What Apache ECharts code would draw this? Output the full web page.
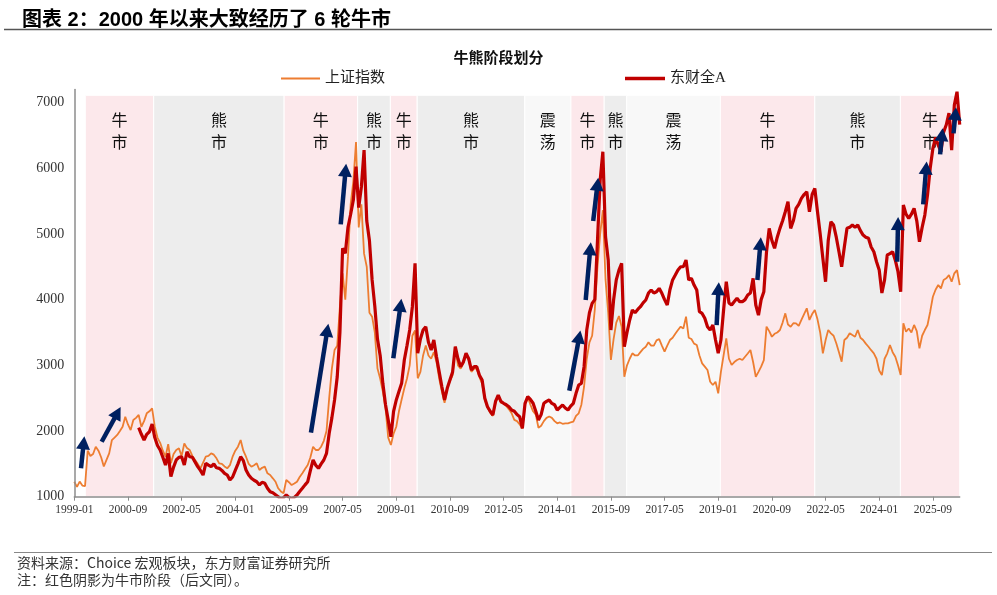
<!DOCTYPE html>
<html>
<head>
<meta charset="utf-8">
<script src="https://cdn.jsdelivr.net/npm/echarts@6/dist/echarts.min.js"></script>
<style>
html, body { margin: 0; padding: 0; background: #fff; }
#chart { width: 997px; height: 595px; }
</style>
</head>
<body>
<div id="chart"></div>
<script>
// x 轴按月计数：0 = 1999-01
const xLabels = ['1999-01', '2000-09', '2002-05', '2004-01', '2005-09', '2007-05', '2009-01', '2010-09', '2012-05',
    '2014-01', '2015-09', '2017-05', '2019-01', '2020-09', '2022-05', '2024-01', '2025-09'];

// 上证指数 月度 (1999-01 起)
const shValues = [
    1228, 1150, 1230, 1170, 1160, 1700, 1620, 1650, 1760, 1700, 1600, 1460, // 1999
    1560, 1660, 1860, 1900, 1940, 2000, 2065, 2218, 2100, 2015, 2167, 2200, // 2000
    2244, 2065, 2150, 2269, 2300, 2345, 2065, 1900, 1820, 1700, 1609, 1800, // 2001
    1508, 1650, 1711, 1736, 1620, 1812, 1740, 1711, 1620, 1559, 1500, 1432, // 2002
    1520, 1609, 1620, 1660, 1640, 1584, 1508, 1500, 1460, 1432, 1480, 1609, // 2003
    1700, 1761, 1863, 1700, 1609, 1500, 1457, 1480, 1508, 1406, 1440, 1457, // 2004
    1356, 1330, 1280, 1228, 1128, 1080, 1052, 1254, 1220, 1178, 1200, 1228, // 2005
    1300, 1356, 1420, 1482, 1600, 1761, 1711, 1711, 1761, 1850, 2000, 2500, // 2006
    2950, 3233, 3300, 3900, 4400, 4000, 4650, 5450, 5800, 6400, 5100, 5450, // 2007
    4700, 4500, 3800, 3740, 3500, 2950, 2800, 2600, 2350, 1900, 1787, 1960, // 2008
    2065, 2300, 2480, 2650, 2800, 3000, 3450, 3530, 2802, 2900, 3150, 3300, // 2009
    3150, 3100, 3200, 3050, 2800, 2600, 2430, 2650, 2760, 2850, 3283, 3000, // 2010
    2950, 3030, 3150, 3080, 2900, 2950, 2950, 2820, 2720, 2480, 2360, 2280, // 2011
    2230, 2430, 2530, 2430, 2420, 2380, 2330, 2270, 2170, 2150, 2100, 2040, // 2012
    2400, 2520, 2400, 2300, 2250, 2050, 2080, 2150, 2200, 2220, 2200, 2150, // 2013
    2117, 2130, 2110, 2117, 2117, 2130, 2142, 2230, 2269, 2400, 2674, 3100, // 2014
    3350, 3450, 3850, 4500, 5000, 5361, 4300, 3800, 3081, 3400, 3650, 3750, // 2015
    3588, 2826, 3000, 3100, 3183, 3150, 3150, 3200, 3250, 3283, 3350, 3300, // 2016
    3300, 3380, 3400, 3300, 3207, 3300, 3385, 3420, 3480, 3537, 3588, 3560, // 2017
    3740, 3420, 3400, 3330, 3309, 3150, 3030, 2980, 2928, 2750, 2700, 2750, // 2018
    2574, 2900, 3150, 3411, 3100, 3005, 3050, 3081, 3100, 3080, 3131, 3180, // 2019
    3233, 3050, 2826, 2900, 2979, 3080, 3588, 3520, 3435, 3480, 3500, 3537, // 2020
    3650, 3791, 3620, 3588, 3640, 3639, 3600, 3690, 3780, 3868, 3690, 3780, // 2021
    3842, 3700, 3500, 3183, 3380, 3537, 3487, 3450, 3335, 3200, 3055, 3385, // 2022
    3420, 3487, 3460, 3435, 3537, 3420, 3385, 3330, 3283, 3230, 3183, 3100, // 2023
    2920, 2852, 3100, 3183, 3309, 3200, 3131, 3000, 2852, 3639, 3511, 3560, // 2024
    3500, 3614, 3520, 3259, 3450, 3537, 3614, 3816, 4044, 4150, 4222, 4171, // 2025
    4300, 4324, 4374, 4272, 4400, 4450, 4222                                // 2026
];

// 东财全A 月度 (2001-01 起)
const csiStartMonth = 24;
const csiValues = [
    2050, 1950, 1863, 1950, 1989, 2107, 1900, 1780, 1711, 1600, 1482, 1660, // 2001
    1305, 1450, 1559, 1600, 1609, 1482, 1685, 1609, 1600, 1530, 1457, 1400, // 2002
    1330, 1508, 1480, 1457, 1500, 1440, 1432, 1400, 1356, 1330, 1254, 1300, // 2003
    1400, 1500, 1609, 1550, 1406, 1330, 1280, 1250, 1228, 1178, 1220, 1204, // 2004
    1130, 1076, 1060, 1030, 1000, 960, 985, 1026, 990, 970, 990, 1026,      // 2005
    1080, 1128, 1180, 1228, 1400, 1559, 1480, 1432, 1500, 1559, 1660, 1965, // 2006
    2200, 2472, 2826, 3500, 4781, 4705, 5100, 5300, 5516, 6023, 5400, 5716, // 2007
    6277, 5200, 4900, 4300, 3900, 3400, 3150, 2726, 2400, 2167, 1913, 2300, // 2008
    2472, 2600, 2726, 3081, 3300, 3537, 3892, 4552, 3183, 3400, 3537, 3588, // 2009
    3350, 3233, 3385, 3131, 2900, 2674, 2472, 2650, 2776, 2900, 3283, 3100, // 2010
    2979, 3050, 3183, 3100, 2928, 2979, 2979, 2850, 2776, 2500, 2370, 2300, // 2011
    2244, 2450, 2548, 2450, 2422, 2400, 2370, 2320, 2300, 2250, 2218, 2041, // 2012
    2422, 2522, 2480, 2422, 2300, 2167, 2250, 2422, 2450, 2472, 2420, 2400, // 2013
    2320, 2360, 2396, 2350, 2320, 2380, 2422, 2574, 2700, 2726, 2979, 3537, // 2014
    3800, 3943, 4000, 4900, 5820, 6251, 4957, 4603, 3537, 3994, 4300, 4450, // 2015
    4552, 3283, 3500, 3690, 3842, 3800, 3850, 3892, 3950, 3994, 4100, 4146, // 2016
    4100, 4120, 4171, 4096, 4000, 3918, 4150, 4300, 4374, 4450, 4500, 4500, // 2017
    4603, 4300, 4324, 4222, 4146, 3816, 3790, 3715, 3588, 3537, 3614, 3385, // 2018
    3183, 3385, 3842, 4272, 3950, 3918, 3970, 4020, 3968, 3968, 4000, 4070, // 2019
    4100, 4324, 3918, 3763, 4000, 4120, 4729, 5085, 4900, 4781, 4950, 5085, // 2020
    5200, 5338, 5490, 5085, 5200, 5389, 5450, 5541, 5600, 5642, 5338, 5600, // 2021
    5693, 5338, 5000, 4628, 4272, 4900, 5186, 5135, 4950, 4729, 4500, 4800, // 2022
    5085, 5100, 5135, 5100, 5135, 5050, 4983, 4950, 4933, 4800, 4729, 4577, // 2023
    4450, 4100, 4300, 4679, 4700, 4729, 4600, 4425, 4120, 5440, 5300, 5237, // 2024
    5300, 5389, 5200, 4881, 5100, 5287, 5592, 6000, 6300, 6469, 6350, 6251, // 2025
    6550, 6662, 6840, 6277, 6962, 7165, 6662                                // 2026
];

// 牛熊阶段 (月份序号)
const phaseStart = [4.1, 29.6, 78.2, 105.6, 117.8, 127.8, 167.9, 185.1, 197.5, 205.9, 240.8, 276, 307.9];
const phaseEnd = [29.6, 78.2, 105.6, 117.8, 127.8, 167.9, 185.1, 197.5, 205.9, 240.8, 276, 307.9, 330];
const phaseName = ['牛市', '熊市', '牛市', '熊市', '牛市', '熊市', '震荡', '牛市', '熊市', '震荡', '牛市', '熊市', '牛市'];

// 箭头 起点/终点 [月份序号, 点位]
const arrowFrom = [[2.5, 1432], [10.2, 1837], [88.2, 1974], [99.3, 5146], [118.9, 3107], [184.5, 2613], [190.6, 3994],
    [193.4, 5196], [239.4, 3613], [254.6, 4298], [306.7, 4577], [316.4, 5450], [322.7, 6211], [327.7, 6531]];
const arrowTo = [[3.5, 1820], [16.1, 2277], [94.3, 3534], [101.1, 5970], [121.6, 3915], [188.2, 3432], [192.3, 4776],
    [195.0, 5756], [240.1, 4167], [255.7, 4852], [307.0, 5157], [317.5, 6005], [323.4, 6512], [328.4, 6831]];

const phaseColor = { '牛市': '#FCE8EB', '熊市': '#EDEDED', '震荡': '#F8F8F8' };
const serif = 'Liberation Serif, Noto Sans CJK SC';
const cjk = 'Noto Sans CJK SC';

const shData = shValues.map((v, i) => [i, v]);
const csiData = csiValues.map((v, i) => [i + csiStartMonth, v]);

const chart = echarts.init(document.getElementById('chart'));
chart.setOption({
    animation: false,
    title: [{
        text: '图表 2：2000 年以来大致经历了 6 轮牛市',
        left: 17, top: 5,
        textStyle: { fontSize: 20, fontWeight: 'bold', fontFamily: 'Liberation Sans, Noto Sans CJK SC', color: '#000' }
    }, {
        text: '牛熊阶段划分',
        left: 'center', top: 45,
        textStyle: { fontSize: 15, fontWeight: 'bold', fontFamily: cjk, color: '#111' }
    }],
    legend: [{
        data: ['上证指数'], left: 276, top: 66, icon: 'rect', itemWidth: 39, itemHeight: 2,
        textStyle: { fontSize: 15, fontFamily: serif, color: '#222' }
    }, {
        data: ['东财全A'], left: 620, top: 66, icon: 'rect', itemWidth: 40, itemHeight: 3.5,
        textStyle: { fontSize: 15, fontFamily: serif, color: '#222' }
    }],
    grid: { left: 74.3, right: 37.3, top: 89.4, bottom: 98.3 },
    xAxis: {
        type: 'value', min: 0, max: 330, interval: 20, z: 5,
        axisLine: { lineStyle: { color: '#8c8c8c', width: 1.5 } },
        axisTick: { show: true, length: 4, lineStyle: { color: '#8c8c8c' } },
        axisLabel: {
            fontFamily: serif, fontSize: 11.5, color: '#333', margin: 8, showMaxLabel: false,
            formatter: v => xLabels[v / 20] || ''
        },
        splitLine: { show: false }
    },
    yAxis: {
        type: 'value', min: 1000, max: 7200, interval: 1000, z: 5,
        axisLine: { show: true, lineStyle: { color: '#8c8c8c', width: 1.5 } },
        axisTick: { show: false },
        axisLabel: {
            fontFamily: serif, fontSize: 14, color: '#333', margin: 10, showMaxLabel: false,
            formatter: v => String(v)
        },
        splitLine: { show: false }
    },
    graphic: [
        { type: 'line', shape: { x1: 4, y1: 29.5, x2: 992, y2: 29.5 }, style: { stroke: '#555', lineWidth: 1.5 } },
        { type: 'line', shape: { x1: 14, y1: 552.5, x2: 992, y2: 552.5 }, style: { stroke: '#888', lineWidth: 1.2 } },
        { type: 'text', left: 17, top: 556, style: { text: '资料来源：Choice 宏观板块，东方财富证券研究所', font: '14px "Noto Sans CJK SC"', fill: '#333' } },
        { type: 'text', left: 17, top: 573, style: { text: '注：红色阴影为牛市阶段（后文同）。', font: '14px "Noto Sans CJK SC"', fill: '#333' } }
    ],
    series: [{
        name: 'phase', type: 'line', data: [], silent: true, z: 1,
        markArea: {
            silent: true,
            data: phaseStart.map((s, i) => [{
                xAxis: s, yAxis: 1000,
                name: phaseName[i].split('').join('\n'),
                itemStyle: { color: phaseColor[phaseName[i]], borderColor: '#fff', borderWidth: 1 },
                label: {
                    show: true, position: 'insideTop', distance: 14,
                    fontSize: 16, lineHeight: 22, fontFamily: cjk, color: '#111'
                }
            }, { xAxis: phaseEnd[i], yAxis: 7110 }])
        }
    }, {
        name: '上证指数', type: 'line', data: shData, showSymbol: false, z: 2,
        itemStyle: { color: '#ED7D31' },
        lineStyle: { color: '#ED7D31', width: 1.8 }
    }, {
        name: '东财全A', type: 'line', data: csiData, showSymbol: false, z: 3,
        itemStyle: { color: '#C00000' },
        lineStyle: { color: '#C00000', width: 3.2 }
    }, {
        name: 'arrows', type: 'line', data: [], silent: true, z: 6,
        markLine: {
            silent: true, symbol: ['none', 'triangle'], symbolSize: [14, 13],
            label: { show: false },
            lineStyle: { color: '#002060', width: 4.5, type: 'solid' },
            data: arrowFrom.map((p, i) => [{ coord: p }, { coord: arrowTo[i] }])
        }
    }]
});
</script>
</body>
</html>
